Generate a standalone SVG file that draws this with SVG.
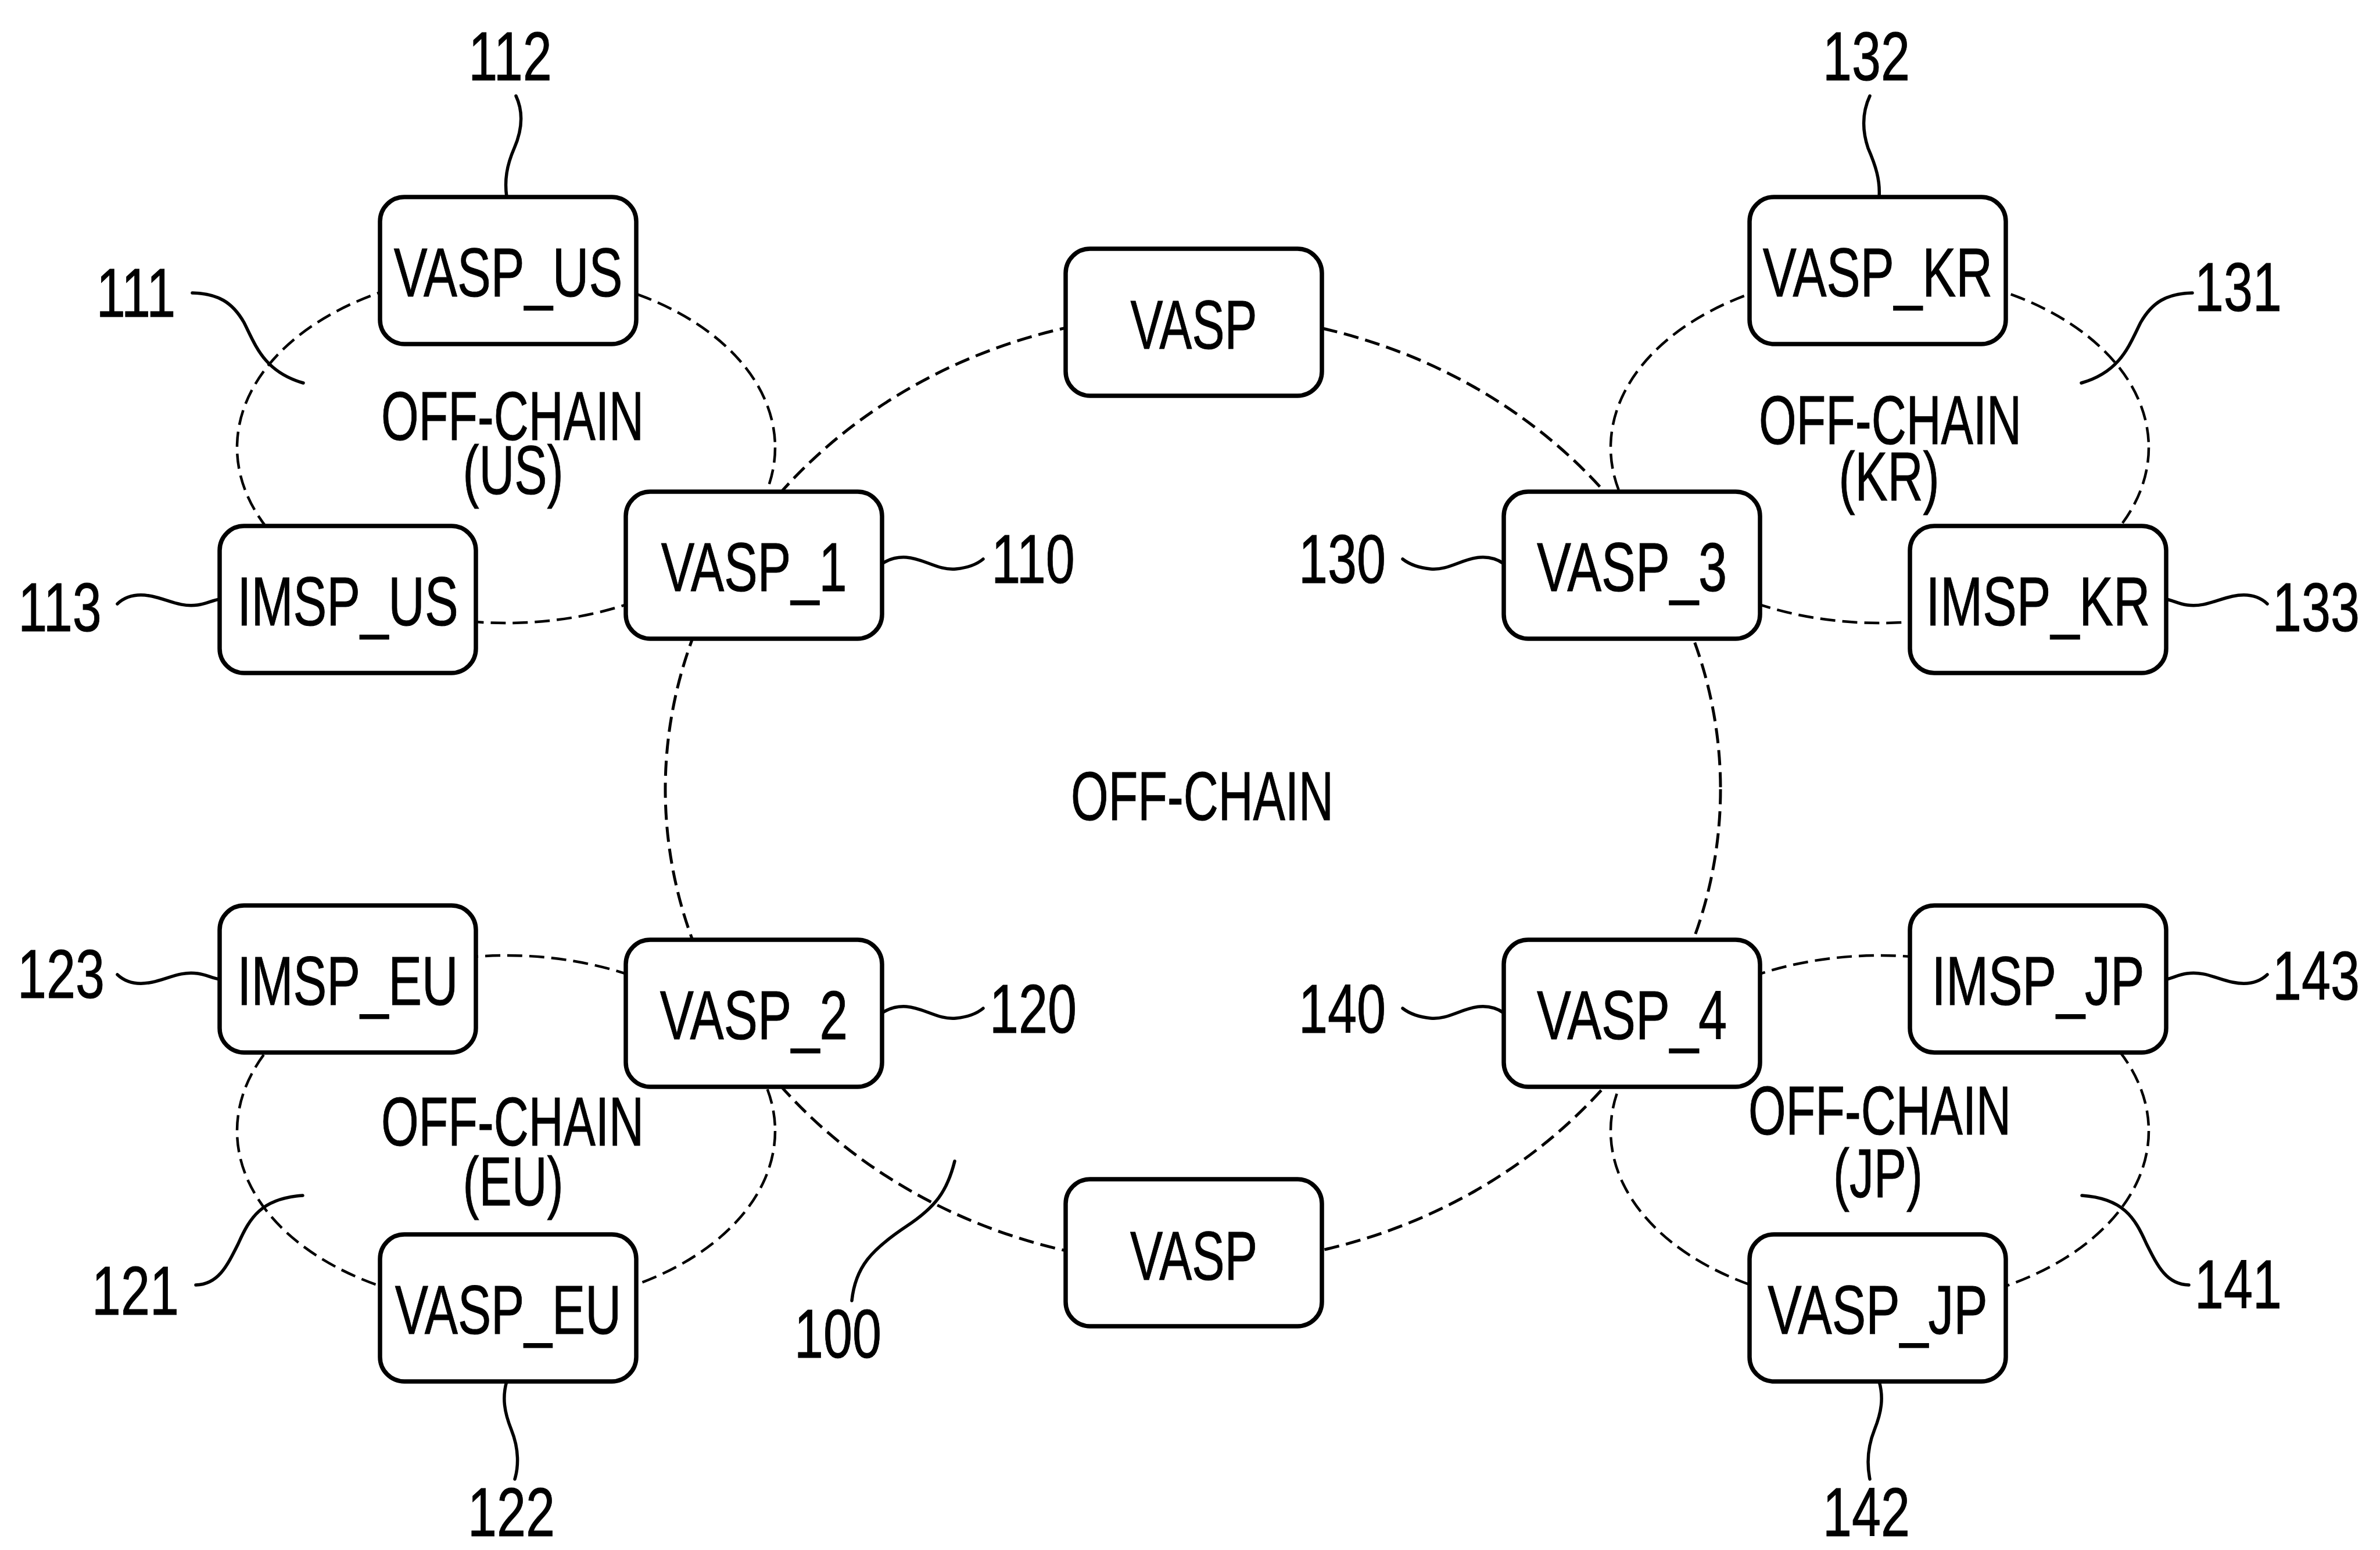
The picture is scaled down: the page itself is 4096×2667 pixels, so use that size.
<svg xmlns="http://www.w3.org/2000/svg" width="4096" height="2667" viewBox="0 0 4096 2667">
<style>
.box{fill:#fff;stroke:#000;stroke-width:7.5}
.dash{fill:none;stroke:#000;stroke-width:4.5;stroke-dasharray:26 12}
.main{stroke-width:5}
.lead{fill:none;stroke:#000;stroke-width:5.5;stroke-linecap:round}
text{font-family:"Liberation Sans",Arial,sans-serif;font-size:119px;fill:#000;stroke:#000;stroke-width:1;text-anchor:middle}
</style>
<rect x="0" y="0" width="4096" height="2667" fill="#fff"/>
<g id="connectors">
<ellipse class="dash main" cx="2053" cy="1358" rx="908" ry="818"/>
<ellipse class="dash" cx="871" cy="770" rx="463" ry="302"/>
<ellipse class="dash" cx="3235" cy="770" rx="463" ry="302"/>
<ellipse class="dash" cx="871" cy="1946" rx="463" ry="302"/>
<ellipse class="dash" cx="3235" cy="1946" rx="463" ry="302"/>
</g>
<g id="node-vasp-us"><rect class="box" x="654" y="339" width="441" height="253" rx="42"/><text transform="translate(874.5,510) scale(0.729,1)">VASP_US</text></g>
<g id="node-vasp-top"><rect class="box" x="1834" y="428" width="441" height="253" rx="42"/><text transform="translate(2054.5,600) scale(0.706,1)">VASP</text></g>
<g id="node-vasp-kr"><rect class="box" x="3011" y="339" width="441" height="253" rx="42"/><text transform="translate(3231.5,510) scale(0.732,1)">VASP_KR</text></g>
<g id="node-imsp-us"><rect class="box" x="378" y="905" width="441" height="253" rx="42"/><text transform="translate(598.5,1076) scale(0.728,1)">IMSP_US</text></g>
<g id="node-vasp-1"><rect class="box" x="1077" y="846" width="441" height="253" rx="42"/><text transform="translate(1297.5,1017) scale(0.725,1)">VASP_1</text></g>
<g id="node-vasp-3"><rect class="box" x="2588" y="846" width="441" height="253" rx="42"/><text transform="translate(2808.5,1017) scale(0.742,1)">VASP_3</text></g>
<g id="node-imsp-kr"><rect class="box" x="3287" y="905" width="441" height="253" rx="42"/><text transform="translate(3507.5,1076) scale(0.739,1)">IMSP_KR</text></g>
<g id="node-imsp-eu"><rect class="box" x="378" y="1558" width="441" height="253" rx="42"/><text transform="translate(598.5,1729) scale(0.728,1)">IMSP_EU</text></g>
<g id="node-vasp-2"><rect class="box" x="1077" y="1617" width="441" height="253" rx="42"/><text transform="translate(1297.5,1788) scale(0.733,1)">VASP_2</text></g>
<g id="node-vasp-4"><rect class="box" x="2588" y="1617" width="441" height="253" rx="42"/><text transform="translate(2808.5,1788) scale(0.742,1)">VASP_4</text></g>
<g id="node-imsp-jp"><rect class="box" x="3287" y="1558" width="441" height="253" rx="42"/><text transform="translate(3507.5,1729) scale(0.738,1)">IMSP_JP</text></g>
<g id="node-vasp-bottom"><rect class="box" x="1834" y="2029" width="441" height="253" rx="42"/><text transform="translate(2054.5,2202) scale(0.709,1)">VASP</text></g>
<g id="node-vasp-eu"><rect class="box" x="654" y="2124" width="441" height="253" rx="42"/><text transform="translate(874.5,2295) scale(0.721,1)">VASP_EU</text></g>
<g id="node-vasp-jp"><rect class="box" x="3011" y="2124" width="441" height="253" rx="42"/><text transform="translate(3231.5,2295) scale(0.737,1)">VASP_JP</text></g>
<g id="region-labels">
<text transform="translate(882,757) scale(0.698,1)">OFF-CHAIN</text>
<text transform="translate(883,850) scale(0.708,1)">(US)</text>
<text transform="translate(3253,764) scale(0.698,1)">OFF-CHAIN</text>
<text transform="translate(3251,861) scale(0.708,1)">(KR)</text>
<text transform="translate(882,1971) scale(0.698,1)">OFF-CHAIN</text>
<text transform="translate(883,2074) scale(0.708,1)">(EU)</text>
<text transform="translate(3235,1952) scale(0.698,1)">OFF-CHAIN</text>
<text transform="translate(3232,2060) scale(0.706,1)">(JP)</text>
<text transform="translate(2069,1411) scale(0.698,1)">OFF-CHAIN</text>
</g>
<g id="callouts">
<path class="lead" d="M888,165 C902,195 898,225 885,255 C872,285 868,310 872,339"/>
<path class="lead" d="M3218,165 C3204,195 3205,225 3215,255 C3228,285 3236,310 3234,339"/>
<path class="lead" d="M872,2377 C864,2405 868,2430 880,2460 C894,2495 892,2525 886,2545"/>
<path class="lead" d="M3234,2377 C3242,2405 3238,2430 3226,2460 C3212,2495 3214,2525 3218,2545"/>
<path class="lead" d="M331,504 C375,505 400,520 420,555 C440,595 455,640 522,659"/>
<path class="lead" d="M3773,504 C3729,505 3704,520 3684,555 C3664,595 3649,640 3582,659"/>
<path class="lead" d="M337,2211 C375,2210 390,2180 410,2140 C430,2095 450,2062 521,2057"/>
<path class="lead" d="M3767,2211 C3729,2210 3714,2180 3694,2140 C3674,2095 3654,2062 3583,2057"/>
<path class="lead" d="M202,1039 C218,1024 238,1021 262,1026 C290,1032 310,1045 340,1041 C355,1039 365,1033 378,1031"/>
<path class="lead" d="M3902,1039 C3886,1024 3866,1021 3842,1026 C3814,1032 3794,1045 3764,1041 C3749,1039 3739,1033 3728,1031"/>
<path class="lead" d="M202,1677 C218,1692 238,1695 262,1690 C290,1684 310,1671 340,1675 C355,1677 365,1683 378,1685"/>
<path class="lead" d="M3902,1677 C3886,1692 3866,1695 3842,1690 C3814,1684 3794,1671 3764,1675 C3749,1677 3739,1683 3728,1685"/>
<path class="lead" d="M1518,970 C1530,962 1545,958 1560,959 C1590,961 1615,982 1645,979 C1665,977 1680,972 1692,962"/>
<path class="lead" d="M2588,970 C2577,962 2562,958 2547,959 C2517,961 2492,982 2462,979 C2442,977 2427,972 2414,962"/>
<path class="lead" d="M1518,1743 C1530,1735 1545,1731 1560,1732 C1590,1734 1615,1755 1645,1752 C1665,1750 1680,1745 1692,1735"/>
<path class="lead" d="M2588,1743 C2577,1735 2562,1731 2547,1732 C2517,1734 2492,1755 2462,1752 C2442,1750 2427,1745 2414,1735"/>
<path class="lead" d="M1466,2238 C1472,2180 1500,2150 1560,2110 C1610,2077 1630,2050 1643,1998"/>
<text transform="translate(878,138) scale(0.756,1)">112</text>
<text transform="translate(3212,138) scale(0.756,1)">132</text>
<text transform="translate(234,545) scale(0.756,1)">111</text>
<text transform="translate(3852,535) scale(0.756,1)">131</text>
<text transform="translate(103,1086) scale(0.756,1)">113</text>
<text transform="translate(3986,1086) scale(0.756,1)">133</text>
<text transform="translate(1778,1003) scale(0.756,1)">110</text>
<text transform="translate(2310,1003) scale(0.756,1)">130</text>
<text transform="translate(105,1717) scale(0.756,1)">123</text>
<text transform="translate(3986,1720) scale(0.756,1)">143</text>
<text transform="translate(1778,1777) scale(0.756,1)">120</text>
<text transform="translate(2310,1777) scale(0.756,1)">140</text>
<text transform="translate(233,2262) scale(0.756,1)">121</text>
<text transform="translate(3852,2251) scale(0.756,1)">141</text>
<text transform="translate(880,2643) scale(0.756,1)">122</text>
<text transform="translate(3212,2643) scale(0.756,1)">142</text>
<text transform="translate(1442,2336) scale(0.756,1)">100</text>
</g>
</svg>
